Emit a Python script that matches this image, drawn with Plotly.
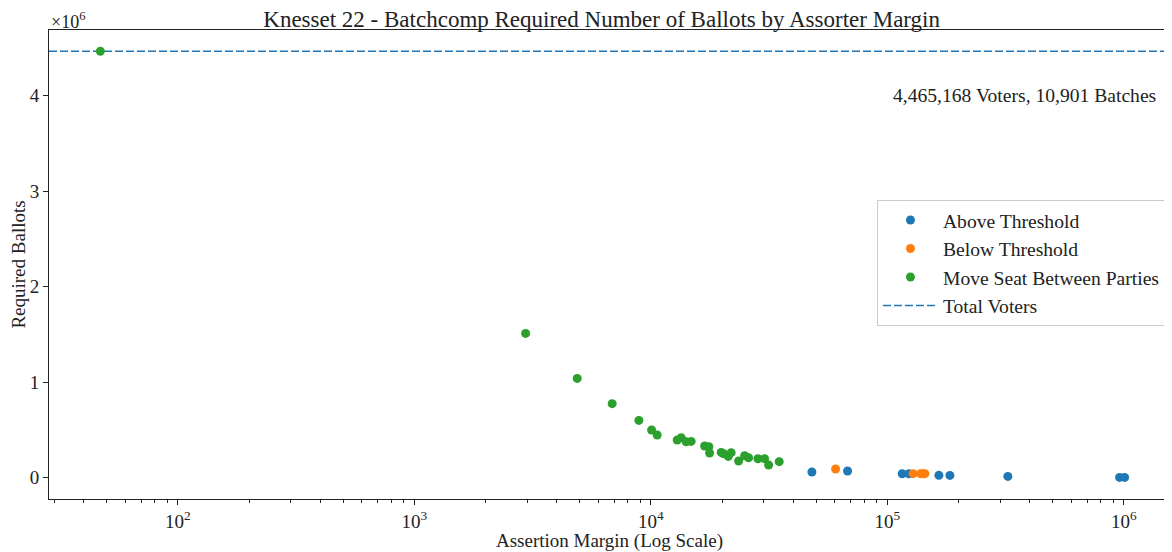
import plotly.graph_objects as go

# assertion margins and required ballots
above_margin = [47960, 67860, 115500, 123300, 165100, 183800, 323200, 959000, 1007000]
above_ballots = [59700, 70200, 41900, 41900, 25000, 24000, 13600, 3000, 3000]

below_margin = [60390, 128500, 138100, 141300, 144100]
below_ballots = [91000, 42000, 42000, 42000, 42000]

seat_margin = [47, 2953, 4880, 6860, 8898, 10070, 10630, 12920, 13430, 14100, 14800,
               16870, 17590, 17710, 19830, 20220, 21230, 21850, 23490, 24910, 25890,
               28350, 30260, 31460, 34870]
seat_ballots = [4465168, 1511000, 1040000, 775000, 600000, 499500, 447000, 395000, 419000,
                377000, 380000, 332000, 325000, 259000, 265000, 254000, 223000, 262000,
                175000, 230000, 209000, 199000, 199000, 133000, 168000]

total_voters = 4465168
total_batches = 10901

BLUE, ORANGE, GREEN = "#1f77b4", "#ff7f0e", "#2ca02c"
FONT = "Liberation Serif"
INK = "#222"
DASH = "8px,3px"

fig = go.Figure()
for name, xs, ys, c in [("Above Threshold", above_margin, above_ballots, BLUE),
                        ("Below Threshold", below_margin, below_ballots, ORANGE),
                        ("Move Seat Between Parties", seat_margin, seat_ballots, GREEN)]:
    fig.add_trace(go.Scatter(x=xs, y=ys, mode="markers", name=name,
                             marker=dict(color=c, size=9)))

# legend entry for the dashed total line
fig.add_trace(go.Scatter(x=[None], y=[None], mode="lines", name="Total Voters",
                         line=dict(color=BLUE, dash=DASH, width=1.5)))
fig.add_hline(y=total_voters, line=dict(color=BLUE, dash=DASH, width=1.5), layer="below")

decades = [2, 3, 4, 5, 6]
minor_vals = [m * 10 ** d for d in range(1, 7) for m in range(2, 10)]

# page body has an 8px margin, so the figure is shrunk by that much
fig.update_layout(
    width=1164, height=544,
    margin=dict(l=41, r=2, t=22, b=53),
    paper_bgcolor="white", plot_bgcolor="white",
    font=dict(family=FONT, size=19, color=INK),
    title=dict(text="Knesset 22 - Batchcomp Required Number of Ballots by Assorter Margin",
               x=0.493, xref="paper", xanchor="center", y=0.995, yanchor="top",
               pad=dict(t=0, b=0), font=dict(size=23, color=INK)),
    xaxis=dict(type="log", range=[1.455, 6.195], automargin=False,
               tickvals=[10 ** d for d in decades],
               ticktext=[f"10<sup>{d}</sup>" for d in decades],
               ticks="outside", ticklen=5, tickcolor=INK,
               minor=dict(tickvals=minor_vals, ticks="outside", ticklen=3, tickcolor=INK),
               showline=True, linecolor=INK, linewidth=1, mirror=True,
               showgrid=False, zeroline=False,
               title=dict(text="Assertion Margin (Log Scale)", standoff=3, font=dict(size=19))),
    yaxis=dict(range=[-0.223e6, 4.688e6], automargin=False,
               tickvals=[0, 1e6, 2e6, 3e6, 4e6], ticktext=["0", "1", "2", "3", "4"],
               ticks="outside", ticklen=5, tickcolor=INK,
               showline=True, linecolor=INK, linewidth=1, mirror=True,
               showgrid=False, zeroline=False,
               title=dict(text="Required Ballots", standoff=2, font=dict(size=19))),
    legend=dict(x=0.9964, xanchor="right", y=0.638, yanchor="top",
                bgcolor="white", bordercolor="#ccc", borderwidth=1,
                font=dict(size=19.6), itemwidth=55),
    showlegend=True,
)

fig.add_annotation(text="×10<sup>6</sup>", xref="paper", yref="paper", x=0, y=1,
                   xanchor="left", yanchor="bottom", yshift=-4, showarrow=False,
                   font=dict(size=18))
fig.add_annotation(text=f"{total_voters:,} Voters, {total_batches:,} Batches",
                   xref="paper", yref="paper", x=0.989, y=0.861,
                   xanchor="right", yanchor="middle", showarrow=False, font=dict(size=19.6))

fig.write_html("out.html")
